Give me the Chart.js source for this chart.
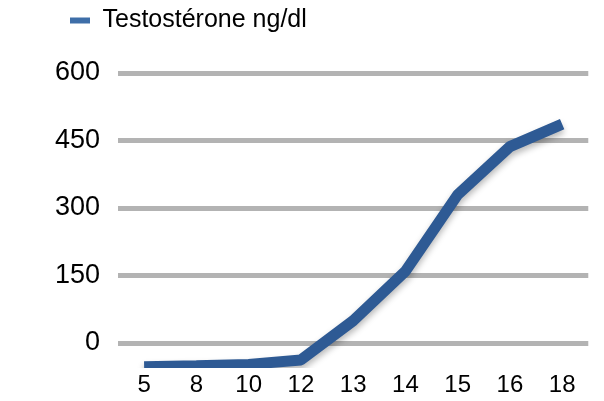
<!DOCTYPE html>
<html>
<head>
<meta charset="utf-8">
<script src="https://cdn.jsdelivr.net/npm/chart.js@4"></script>
<style>
  html, body { margin: 0; padding: 0; background: #ffffff; }
  #wrap { width: 604px; height: 401px; }
</style>
</head>
<body>
<div id="wrap"><canvas id="c"></canvas></div>
<script>
const seriesLabel = 'Testostérone ng/dl';
const ages = ['5', '8', '10', '12', '13', '14', '15', '16', '18'];
const testosterone = [3, 5, 8, 18, 105, 215, 385, 492, 542];
const yTicks = [0, 150, 300, 450, 600];

const FONT = '"Liberation Sans", Arial, Helvetica, sans-serif';

// pseudo-3D depth: line sits on the front plane, slightly below the back-wall gridlines
const depthPlugin = {
  id: 'depth',
  beforeInit(chart) {
    const origFit = chart.legend.fit;
    chart.legend.fit = function () {
      origFit.call(this);
      this.height += 30;
    };
  },
  beforeDraw(chart) {
    chart.legend.left = 62;
  },
  beforeDatasetsDraw(chart) {
    const ctx = chart.ctx;
    ctx.save();
    ctx.translate(0, 25);
    ctx.shadowColor = 'rgba(0,0,0,0.28)';
    ctx.shadowBlur = 6;
    ctx.shadowOffsetY = 4;
  },
  afterDatasetsDraw(chart) {
    chart.ctx.restore();
  }
};

new Chart(document.getElementById('c'), {
  type: 'line',
  data: {
    labels: ages,
    datasets: [{
      label: seriesLabel,
      data: testosterone,
      borderColor: '#2e5a94',
      backgroundColor: '#3e6ea8',
      borderWidth: 11,
      borderJoinStyle: 'bevel',
      borderCapStyle: 'butt',
      pointRadius: 0,
      pointHoverRadius: 0,
      tension: 0,
      fill: false
    }]
  },
  options: {
    responsive: true,
    maintainAspectRatio: false,
    animation: false,
    layout: { padding: { left: 0, right: 9, top: 0, bottom: 0 } },
    plugins: {
      tooltip: { enabled: false },
      legend: {
        display: true,
        position: 'top',
        align: 'start',
        labels: {
          font: { family: FONT, size: 25 },
          color: '#000000',
          boxWidth: 20,
          boxHeight: 6,
          padding: 8,
          generateLabels(chart) {
            const items = Chart.defaults.plugins.legend.labels.generateLabels(chart);
            items.forEach(it => { it.fillStyle = '#3e6ea8'; it.strokeStyle = '#3e6ea8'; it.lineWidth = 0; });
            return items;
          }
        }
      }
    },
    scales: {
      x: {
        offset: true,
        afterFit(scale) { scale.height = 58; },
        grid: { display: false, drawTicks: false },
        border: { display: false },
        ticks: {
          font: { family: FONT, size: 24 },
          color: '#000000',
          padding: 28,
          maxRotation: 0,
          autoSkip: false
        }
      },
      y: {
        min: 0,
        max: 600,
        afterBuildTicks(scale) { scale.ticks = yTicks.map(v => ({ value: v })); },
        afterFit(scale) { scale.width = 118; },
        grid: { color: '#b3b3b3', lineWidth: 5, drawTicks: false },
        border: { display: false },
        ticks: {
          font: { family: FONT, size: 27 },
          color: '#000000',
          padding: 18
        }
      }
    }
  },
  plugins: [depthPlugin]
});
</script>
</body>
</html>
